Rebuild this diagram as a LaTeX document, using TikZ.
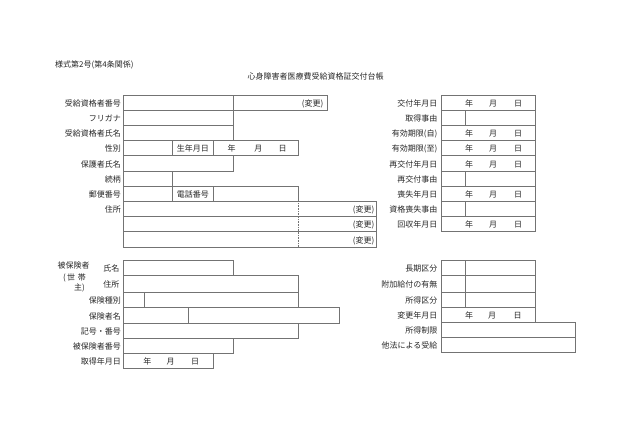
\documentclass[tikz,border=0pt]{standalone}
\usepackage{fontspec}
\setmainfont{Noto Sans CJK JP}
\begin{document}
\begin{tikzpicture}[x=1pt,y=-1pt,
  cellline/.style={draw=black!55, line width=0.6pt},
  lbl/.style={anchor=east, inner sep=0pt, text height=0.88em, text depth=0.12em, font=\fontsize{8}{9}\selectfont, text=black!85},
  txt/.style={inner sep=0pt, text height=0.88em, text depth=0.12em, font=\fontsize{8}{9}\selectfont, text=black!85}]
\useasboundingbox (0,0) rectangle (630,441);

% titles
\node[txt, anchor=west] (form) at (55,63.3) {様式第2号(第4条関係)};
\node[txt] (title) at (315.5,76) {心身障害者医療費受給資格証交付台帳};

% ---------- upper left ----------
\draw[cellline] (123.3,95) rectangle (233.3,110.2);
\draw[cellline] (233.3,95) rectangle (327,110.2);
\draw[cellline] (123.3,110.2) rectangle (233.3,125.4);
\draw[cellline] (123.3,125.4) rectangle (233.3,140.6);
\draw[cellline] (123.3,140.6) rectangle (172.3,155.8);
\draw[cellline] (172.3,140.6) rectangle (213.3,155.8);
\draw[cellline] (213.3,140.6) rectangle (298,155.8);
\draw[cellline] (123.3,155.8) rectangle (233.3,171);
\draw[cellline] (123.3,171) rectangle (172.3,186.2);
\draw[cellline] (123.3,186.2) rectangle (172.3,201.4);
\draw[cellline] (172.3,186.2) rectangle (213.3,201.4);
\draw[cellline] (213.3,186.2) rectangle (298,201.4);
\draw[cellline] (123.3,201.4) rectangle (376.7,216.6);
\draw[cellline] (123.3,216.6) rectangle (376.7,231.8);
\draw[cellline] (123.3,231.8) rectangle (376.7,247);
\draw[draw=black!55, line width=0.6pt, densely dotted] (298,201.4) -- (298,247);

\node[lbl] (l1) at (121,102.6) {受給資格者番号};
\node[lbl] (l2) at (121,117.8) {フリガナ};
\node[lbl] (l3) at (121,133) {受給資格者氏名};
\node[lbl] (l4) at (121,148.2) {性別};
\node[lbl] (l5) at (121,163.4) {保護者氏名};
\node[lbl] (l6) at (121,178.6) {続柄};
\node[lbl] (l7) at (121,193.8) {郵便番号};
\node[lbl] (l8) at (121,209) {住所};

\node[lbl] (chg0) at (323.5,102.6) {(変更)};
\node[txt] (birth) at (192.8,148.2) {生年月日};
\node[txt] (by) at (231.7,148.2) {年};
\node[txt] (bm) at (258.3,148.2) {月};
\node[txt] (bd) at (282.7,148.2) {日};
\node[txt] (tel) at (192.8,193.8) {電話番号};
\node[lbl] (chg1) at (374.5,209) {(変更)};
\node[lbl] (chg2) at (374.5,224.2) {(変更)};
\node[lbl] (chg3) at (374.5,239.4) {(変更)};

% ---------- upper right ----------
\draw[cellline] (441,95) rectangle (535,110.2);
\draw[cellline] (441,110.2) rectangle (465.7,125.4);
\draw[cellline] (465.7,110.2) rectangle (535,125.4);
\draw[cellline] (441,125.4) rectangle (535,140.6);
\draw[cellline] (441,140.6) rectangle (535,155.8);
\draw[cellline] (441,155.8) rectangle (535,171);
\draw[cellline] (441,171) rectangle (465.7,186.2);
\draw[cellline] (465.7,171) rectangle (535,186.2);
\draw[cellline] (441,186.2) rectangle (535,201.4);
\draw[cellline] (441,201.4) rectangle (465.7,216.6);
\draw[cellline] (465.7,201.4) rectangle (535,216.6);
\draw[cellline] (441,216.6) rectangle (535,231.8);

\node[lbl] (r1) at (437.5,102.6) {交付年月日};
\node[lbl] (r2) at (437.5,117.8) {取得事由};
\node[lbl] (r3) at (437.5,133) {有効期限(自)};
\node[lbl] (r4) at (437.5,148.2) {有効期限(至)};
\node[lbl] (r5) at (437.5,163.4) {再交付年月日};
\node[lbl] (r6) at (437.5,178.6) {再交付事由};
\node[lbl] (r7) at (437.5,193.8) {喪失年月日};
\node[lbl] (r8) at (437.5,209) {資格喪失事由};
\node[lbl] (r9) at (437.5,224.2) {回収年月日};

\foreach \yy/\k in {102.6/a,133/b,148.2/c,163.4/d,193.8/e,224.2/f}{
  \node[txt] (ry\k) at (469,\yy) {年};
  \node[txt] (rm\k) at (493,\yy) {月};
  \node[txt] (rd\k) at (518,\yy) {日};
}

% ---------- lower left ----------
\draw[cellline] (123.3,260) rectangle (233.3,275.2);
\draw[cellline] (123.3,275.2) rectangle (298.3,292.5);
\draw[cellline] (123.3,292.5) rectangle (144.3,307.7);
\draw[cellline] (144.3,292.5) rectangle (298.3,307.7);
\draw[cellline] (123.3,307.7) rectangle (188.7,322.9);
\draw[cellline] (188.7,307.7) rectangle (339.3,322.9);
\draw[cellline] (123.3,322.9) rectangle (298.3,338.1);
\draw[cellline] (123.3,338.1) rectangle (233.3,353.3);
\draw[cellline] (123.3,353.3) rectangle (213.3,368.5);

\node[txt, anchor=west] (ins) at (57.5,265) {被保険者};
\node[txt] (ins2) at (74.5,277) {(\,世\,\,帯};
\node[txt] (ins3) at (79.5,287) {主)};
\node[lbl] (m1) at (119.5,267.6) {氏名};
\node[lbl] (m2) at (119.5,283.9) {住所};
\node[lbl] (m3) at (121,300.1) {保険種別};
\node[lbl] (m4) at (121,315.3) {保険者名};
\node[lbl] (m5) at (121,330.5) {記号・番号};
\node[lbl] (m6) at (121,345.7) {被保険者番号};
\node[lbl] (m7) at (121,360.9) {取得年月日};
\node[txt] (gy) at (147.3,360.9) {年};
\node[txt] (gm) at (170.7,360.9) {月};
\node[txt] (gd) at (195,360.9) {日};

% ---------- lower right ----------
\draw[cellline] (441,260) rectangle (465.7,275.2);
\draw[cellline] (465.7,260) rectangle (535,275.2);
\draw[cellline] (441,275.2) rectangle (465.7,292.5);
\draw[cellline] (465.7,275.2) rectangle (535,292.5);
\draw[cellline] (441,292.5) rectangle (465.7,307.7);
\draw[cellline] (465.7,292.5) rectangle (535,307.7);
\draw[cellline] (441,307.7) rectangle (535,322.4);
\draw[cellline] (441,322.4) rectangle (575.7,337.6);
\draw[cellline] (441,337.6) rectangle (575.7,352.6);

\node[lbl] (s1) at (437.5,267.6) {長期区分};
\node[lbl] (s2) at (437.5,283.9) {附加給付の有無};
\node[lbl] (s3) at (437.5,300.1) {所得区分};
\node[lbl] (s4) at (437.5,315) {変更年月日};
\node[lbl] (s5) at (437.5,330) {所得制限};
\node[lbl] (s6) at (437.5,345.1) {他法による受給};
\node[txt] (cy) at (469,315) {年};
\node[txt] (cm) at (492,315) {月};
\node[txt] (cd) at (517.7,315) {日};
\end{tikzpicture}
\end{document}
